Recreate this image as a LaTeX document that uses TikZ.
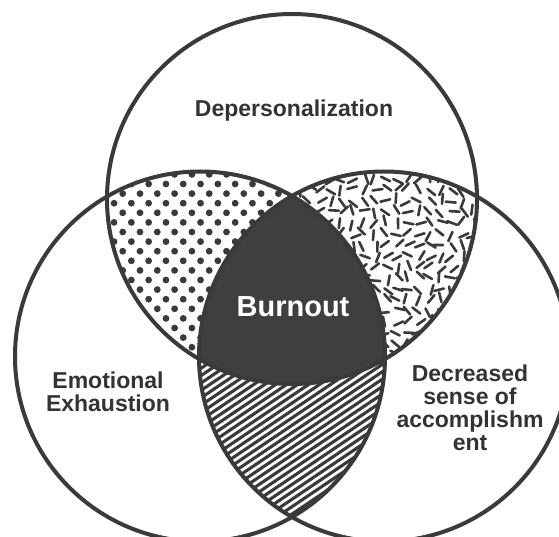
\documentclass[tikz,border=0pt]{standalone}
\usepackage{fontspec}
\setmainfont{Liberation Sans}
\definecolor{ink}{HTML}{3A3A3A}
\definecolor{core}{HTML}{3F3F3F}
\definecolor{txt}{HTML}{333333}
\begin{document}
\begin{tikzpicture}[x=1pt,y=-1pt,
  ring/.style={draw=ink,line width=4pt},
  dotmark/.style={fill=ink},
  hatchline/.style={draw=ink,line width=3.1pt},
  dashmark/.style={draw=ink,line width=2.6pt,line cap=round},
  lbl/.style={font=\fontsize{23}{23}\selectfont\bfseries,text=txt,inner sep=0pt,align=center}]
\useasboundingbox (0,0) rectangle (559,537);
\clip (0,0) rectangle (559,537);
\fill[white] (0,0) rectangle (559,537);
\coordinate (T) at (292,199);
\coordinate (L) at (200,356.5);
\coordinate (R) at (384,356.5);
% dots: top & left
\begin{scope}
  \clip (T) circle[radius=185pt];
  \clip (L) circle[radius=185pt];
  \foreach \j in {0,...,24}{
    \foreach \i in {-2,...,10}{
      \pgfmathsetmacro\xx{131.35+17.3*\i+8.65*mod(\j,2)}
      \pgfmathsetmacro\yy{164.8+9.6*\j}
      \fill[dotmark] (\xx,\yy) circle[radius=3.4pt];
    }
  }
\end{scope}
% hatch: left & right
\begin{scope}
  \clip (L) circle[radius=185pt];
  \clip (R) circle[radius=185pt];
  \foreach \k in {0,...,60}{
    \draw[hatchline] (180,{190+7.4*\k}) -- ++(230,-155.1);
  }
\end{scope}
% random dashes: top & right
\pgfmathsetseed{11}
\begin{scope}
  \clip (T) circle[radius=185pt];
  \clip (R) circle[radius=185pt];
  \foreach \i in {0,...,18}{
    \foreach \j in {0,...,20}{
      \pgfmathsetmacro\xx{287+11*\i+3*rand}
      \pgfmathsetmacro\yy{168+11*\j+3*rand}
      \pgfmathsetmacro\aa{180*rnd}
      \draw[dashmark] (\xx,\yy) +(\aa:5) -- +(\aa+180:5);
    }
  }
\end{scope}
% burnout core
\begin{scope}
  \clip (T) circle[radius=185pt];
  \clip (L) circle[radius=185pt];
  \fill[core] (R) circle[radius=185pt];
\end{scope}
% rings
\draw[ring] (T) circle[radius=185pt];
\draw[ring] (L) circle[radius=185pt];
\draw[ring] (R) circle[radius=185pt];
% labels
\node[lbl,anchor=base] (dep) at (294,117) {Depersonalization};
\node[lbl,font=\fontsize{29}{29}\selectfont\bfseries,text=white,anchor=base] (burn) at (293,316) {Burnout};
\node[lbl,anchor=north] (emo) at (108,372) {Emotional\\Exhaustion};
\node[lbl,anchor=north] (dec) at (470,365) {Decreased\\sense of\\accomplishm\\ent};
\end{tikzpicture}
\end{document}
